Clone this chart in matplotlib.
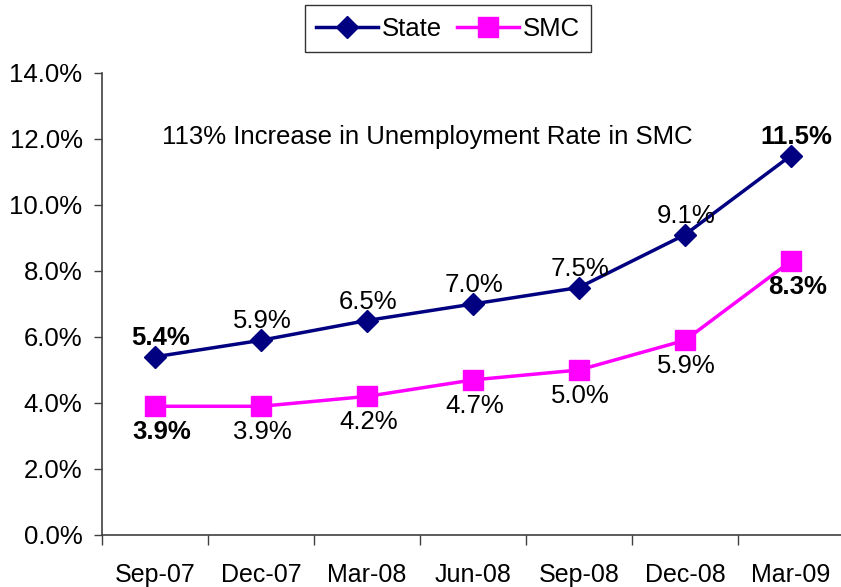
import matplotlib
matplotlib.use("Agg")
import matplotlib.pyplot as plt

categories = ["Sep-07", "Dec-07", "Mar-08", "Jun-08", "Sep-08", "Dec-08", "Mar-09"]
state = [5.4, 5.9, 6.5, 7.0, 7.5, 9.1, 11.5]
smc = [3.9, 3.9, 4.2, 4.7, 5.0, 5.9, 8.3]
yticks = [0, 2, 4, 6, 8, 10, 12, 14]
note = "113% Increase in Unemployment Rate in SMC"

plt.rcParams['font.family'] = ['Liberation Sans', 'DejaVu Sans']

fig = plt.figure(figsize=(8.41, 5.87), dpi=100)
ax = fig.add_axes([102/841, 1 - 535/587, 742/841, (535 - 73)/587])

x = list(range(len(categories)))
ax.plot(x, state, color="#000080", lw=2.5, marker="D", ms=11, label="State", zorder=3)
ax.plot(x, smc, color="#FF00FF", lw=2.5, marker="s", ms=14, label="SMC", zorder=3)

n = len(categories)
for i, v in enumerate(state):
    bold = i in (0, n - 1)
    ax.annotate(f"{v:.1f}%", (i, v), xytext=(4 if bold else 1, 5), textcoords="offset points",
                ha="center", va="bottom", fontsize=18.5,
                fontweight="bold" if bold else "normal")
for i, v in enumerate(smc):
    bold = i in (0, n - 1)
    ax.annotate(f"{v:.1f}%", (i, v), xytext=(5 if bold else 1, -10), textcoords="offset points",
                ha="center", va="top", fontsize=18.5,
                fontweight="bold" if bold else "normal")

ax.text(2.57, 12.06, note, ha="center", va="center", fontsize=18.5)

ax.set_xlim(-0.5, n - 0.5)
ax.set_ylim(0, 14)
ax.set_yticks(yticks)
ax.set_yticklabels([f"{t:.1f}%" for t in yticks], fontsize=18.5)
ax.set_xticks(x)
ax.set_xticklabels(categories, fontsize=18)
ax.tick_params(axis="x", length=0, pad=20)
ax.set_xticks([i - 0.5 for i in range(n + 1)], minor=True)
ax.tick_params(axis="x", which="minor", length=7, width=1, color="#404040")
ax.tick_params(axis="y", length=6, width=1, color="#404040", pad=8)
for s in ("top", "right"):
    ax.spines[s].set_visible(False)
for s in ("left", "bottom"):
    ax.spines[s].set_color("#404040")
    ax.spines[s].set_linewidth(1.2)

leg = fig.legend(loc="upper center", bbox_to_anchor=(448/841, 1 - 5/587), ncol=2,
                 fontsize=18.5, frameon=True, fancybox=False, edgecolor="black",
                 handlelength=2.4, columnspacing=0.6, handletextpad=0.15,
                 borderpad=0.45, borderaxespad=0)
leg.get_frame().set_linewidth(1.0)

fig.savefig("out.png", dpi=100)
